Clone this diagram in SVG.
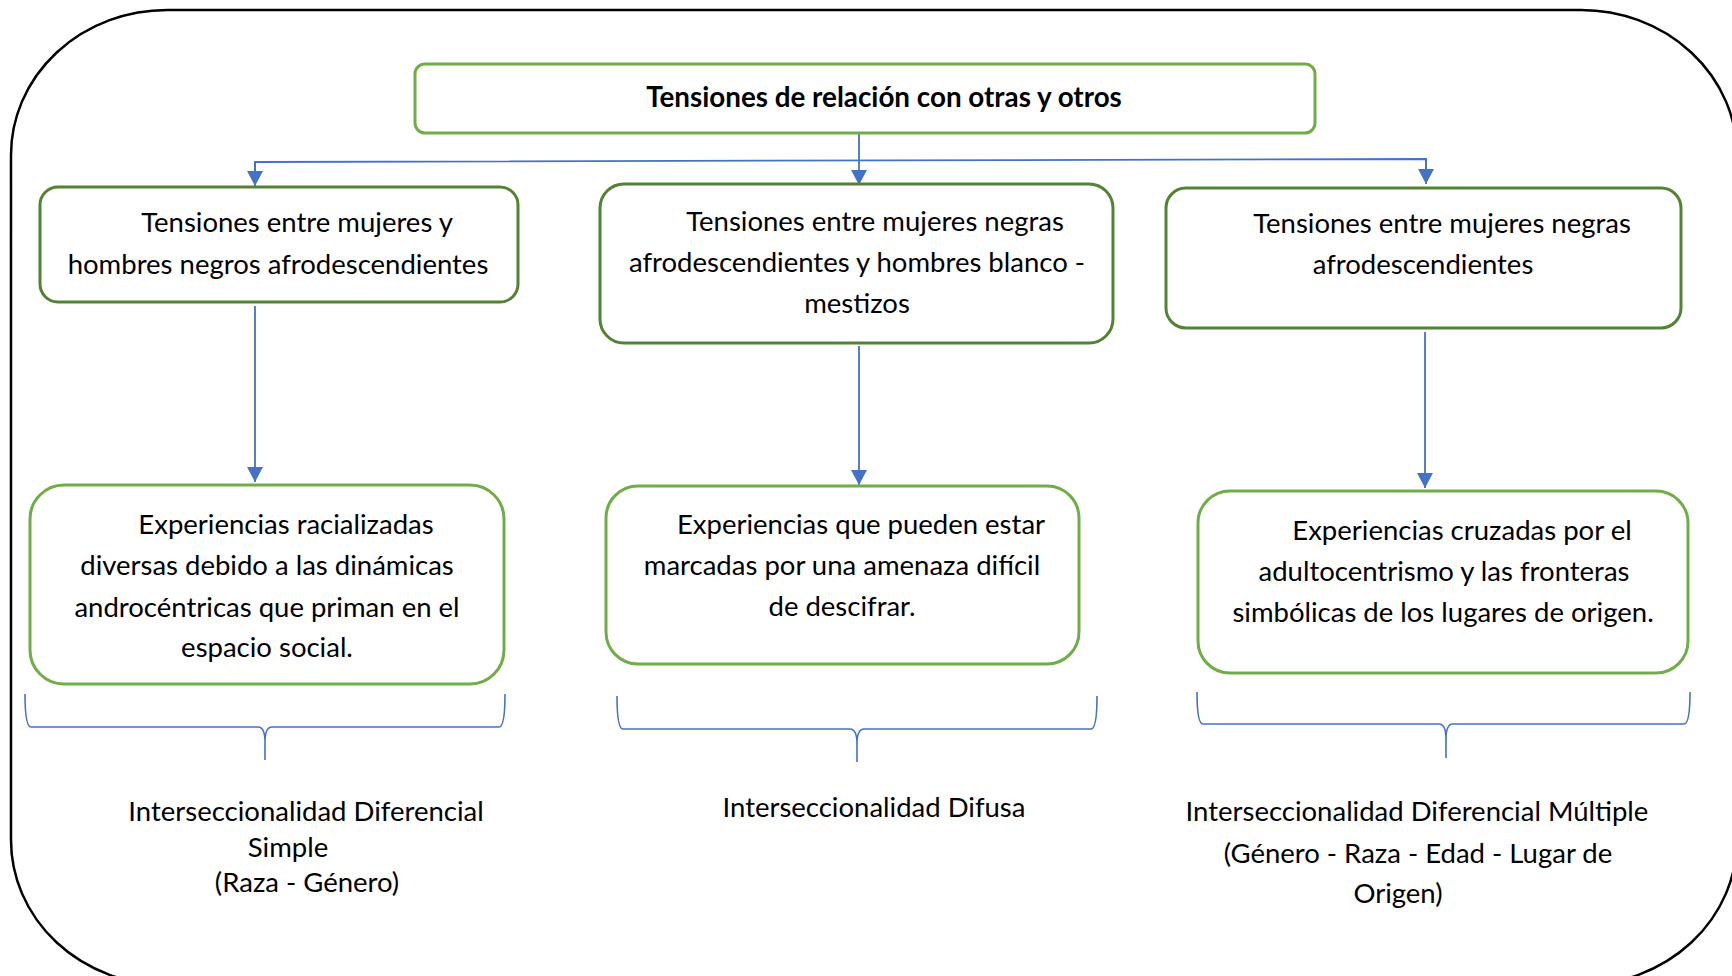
<svg xmlns="http://www.w3.org/2000/svg" width="1732" height="976" viewBox="0 0 1732 976">
<defs>
<marker id="ah" markerWidth="15" markerHeight="16" refX="15" refY="8" orient="auto" markerUnits="userSpaceOnUse" viewBox="0 0 15 16">
<path d="M0,0 L15,8 L0,16 Z" fill="#4472C4"/>
</marker>
<style>
.t{font-family:Lato,"Open Sans","Liberation Sans",sans-serif;font-size:27.5px;fill:#000;text-anchor:middle}
.b{font-weight:bold;font-size:27.8px}
.g1{fill:#fff;stroke:#70AD47;stroke-width:3}
.g2{fill:#fff;stroke:#548235;stroke-width:3}
.c{fill:none;stroke:#4472C4;stroke-width:1.8}
.br{fill:none;stroke:#4472C4;stroke-width:1.6}
</style>
</defs>
<rect width="1732" height="976" fill="#fff"/>
<rect id="frame" x="11" y="10" width="1726" height="975" rx="156" ry="145" fill="none" stroke="#000" stroke-width="2.5"/>

<g id="connectors">
<line class="c" x1="859" y1="133" x2="859" y2="160"/>
<path class="c" d="M255,172 L255,162 L1426,159 L1426,172" fill="none"/>
<line class="c" x1="255" y1="162" x2="255" y2="186" marker-end="url(#ah)"/>
<line class="c" x1="859" y1="160" x2="859" y2="185" marker-end="url(#ah)"/>
<line class="c" x1="1426" y1="159" x2="1426" y2="184" marker-end="url(#ah)"/>
<line class="c" x1="255" y1="306" x2="255" y2="482" marker-end="url(#ah)"/>
<line class="c" x1="859" y1="346" x2="859" y2="485" marker-end="url(#ah)"/>
<line class="c" x1="1425" y1="332" x2="1425" y2="488" marker-end="url(#ah)"/>
</g>

<g id="top">
<rect class="g1" x="415" y="64" width="900" height="69" rx="10"/>
<text class="t b" x="884" y="107">Tensiones de relación con otras y otros</text>
</g>

<g id="n-l1">
<rect class="g2" x="40" y="187" width="478" height="115" rx="18"/>
<text class="t" x="297" y="232">Tensiones entre mujeres y</text>
<text class="t" x="278" y="274">hombres negros afrodescendientes</text>
</g>

<g id="n-c1">
<rect class="g2" x="600" y="184" width="513" height="159" rx="24"/>
<text class="t" x="875" y="231">Tensiones entre mujeres negras</text>
<text class="t" x="857" y="272">afrodescendientes y hombres blanco -</text>
<text class="t" x="857" y="313">mestizos</text>
</g>

<g id="n-r1">
<rect class="g2" x="1166" y="188" width="515" height="140" rx="20"/>
<text class="t" x="1442" y="233">Tensiones entre mujeres negras</text>
<text class="t" x="1423" y="274">afrodescendientes</text>
</g>

<g id="n-l2">
<rect class="g1" x="30" y="485" width="474" height="199" rx="34"/>
<text class="t" x="286" y="534">Experiencias racializadas</text>
<text class="t" x="267" y="575">diversas debido a las dinámicas</text>
<text class="t" x="267" y="617">androcéntricas que priman en el</text>
<text class="t" x="267" y="657">espacio social.</text>
</g>

<g id="n-c2">
<rect class="g1" x="606" y="486" width="473" height="178" rx="32"/>
<text class="t" x="861" y="534">Experiencias que pueden estar</text>
<text class="t" x="842" y="575">marcadas por una amenaza difícil</text>
<text class="t" x="842" y="616">de descifrar.</text>
</g>

<g id="n-r2">
<rect class="g1" x="1198" y="491" width="490" height="182" rx="32"/>
<text class="t" x="1462" y="540">Experiencias cruzadas por el</text>
<text class="t" x="1444" y="581">adultocentrismo y las fronteras</text>
<text class="t" x="1443" y="622">simbólicas de los lugares de origen.</text>
</g>

<g id="braces">
<path class="br" d="M25,694 Q25,727 31,727 L258,727 Q265,727 265,742 L265,760 M265,742 Q265,727 272,727 L499,727 Q505,727 505,694"/>
<path class="br" d="M617,696 Q617,729 623,729 L850,729 Q857,729 857,744 L857,762 M857,744 Q857,729 864,729 L1091,729 Q1097,729 1097,696"/>
<path class="br" d="M1197,692 Q1197,724 1203,724 L1439,724 Q1446,724 1446,739 L1446,758 M1446,739 Q1446,724 1453,724 L1684,724 Q1690,724 1690,692"/>
</g>

<g id="label-l">
<text class="t" x="306" y="821">Interseccionalidad Diferencial</text>
<text class="t" x="288" y="857">Simple</text>
<text class="t" x="307" y="892">(Raza - Género)</text>
</g>
<g id="label-c">
<text class="t" x="874" y="817">Interseccionalidad Difusa</text>
</g>
<g id="label-r">
<text class="t" x="1417" y="821">Interseccionalidad Diferencial Múltiple</text>
<text class="t" x="1418" y="863">(Género - Raza - Edad - Lugar de</text>
<text class="t" x="1398" y="903">Origen)</text>
</g>
</svg>
